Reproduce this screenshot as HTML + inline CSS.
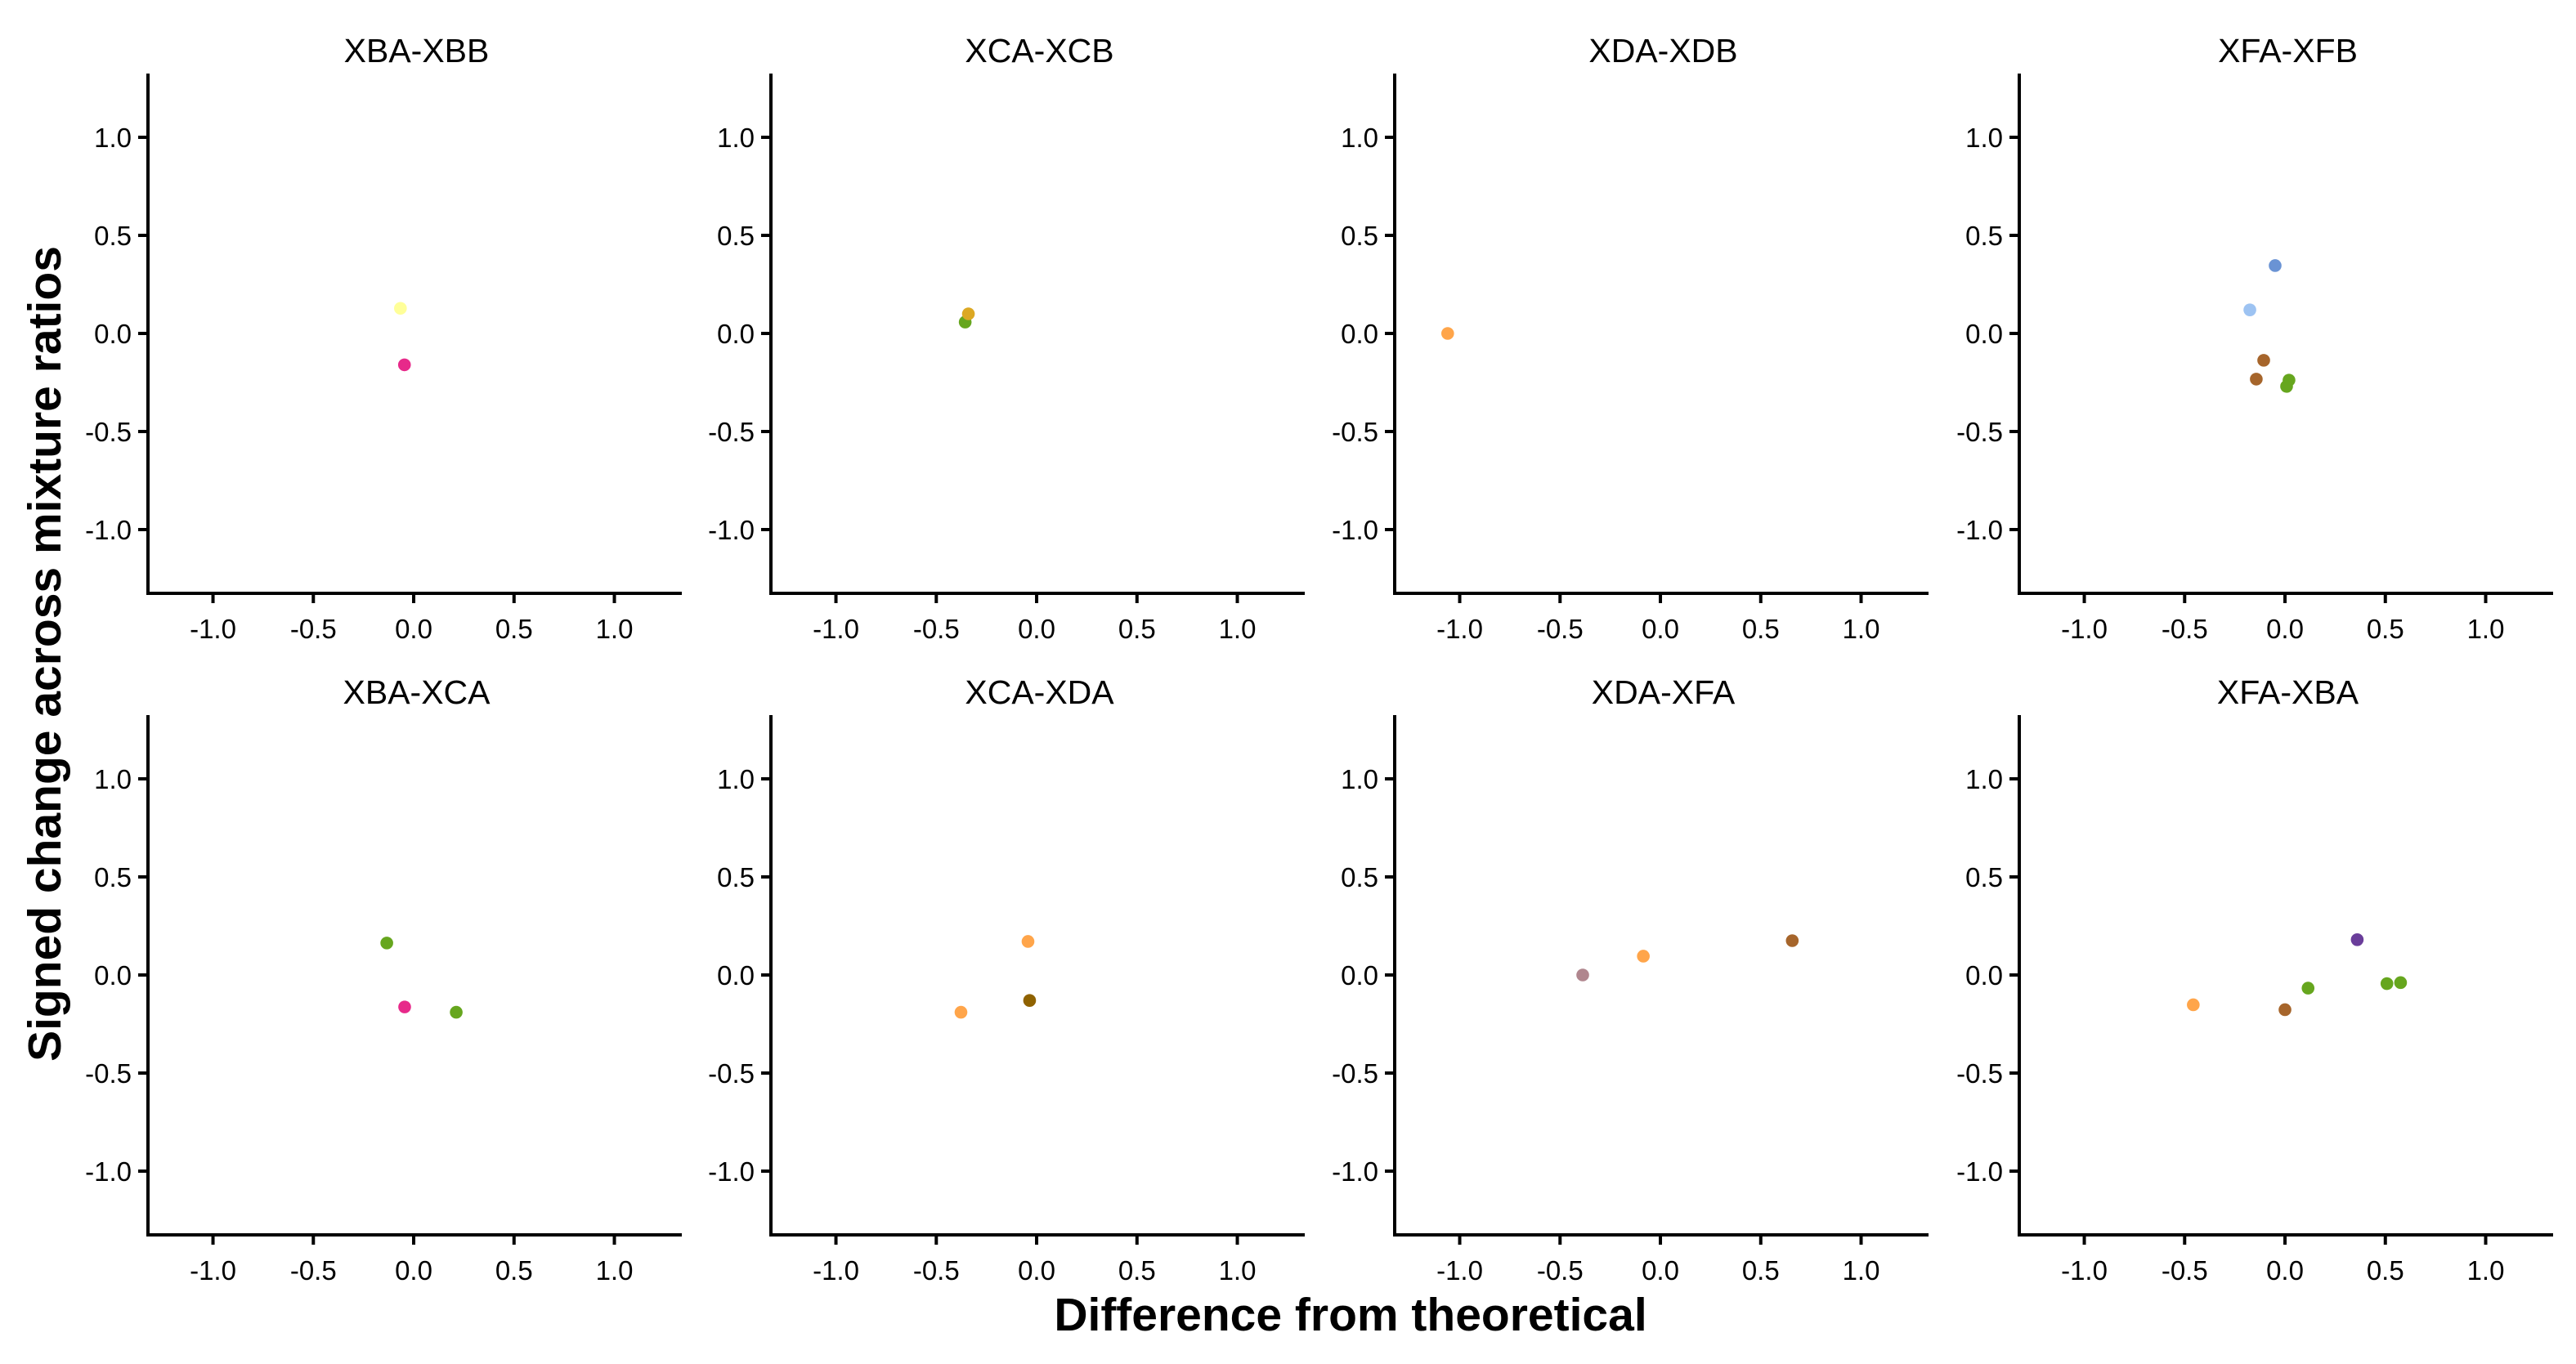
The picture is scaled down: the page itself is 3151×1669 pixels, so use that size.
<!DOCTYPE html>
<html><head><meta charset="utf-8"><style>
html,body{margin:0;padding:0;background:#fff;}
svg{display:block;font-family:"Liberation Sans",Arial,sans-serif;}
</style></head><body>
<svg id="chart" width="3151" height="1669" viewBox="0 0 3151 1669" xmlns="http://www.w3.org/2000/svg">
<rect width="3151" height="1669" fill="#fff"/>
<text x="0" y="0" transform="translate(74,800) rotate(-90)" text-anchor="middle" font-size="57" font-weight="bold">Signed change across mixture ratios</text>
<text x="1652" y="1628" text-anchor="middle" font-size="57" font-weight="bold">Difference from theoretical</text>
</svg>
<script>
const panelTitles = ["XBA-XBB","XCA-XCB","XDA-XDB","XFA-XFB","XBA-XCA","XCA-XDA","XDA-XFA","XFA-XBA"];
const xValues = [
  [-0.066,-0.046],
  [-0.356,-0.34],
  [-1.06],
  [-0.049,-0.175,-0.106,-0.143,0.02,0.008],
  [-0.134,-0.045,0.212],
  [-0.043,-0.035,-0.377],
  [-0.387,-0.085,0.657],
  [-0.457,0,0.115,0.36,0.508,0.576]
];
const yValues = [
  [0.128,-0.16],
  [0.058,0.1],
  [0.0],
  [0.346,0.12,-0.137,-0.233,-0.238,-0.27],
  [0.163,-0.163,-0.19],
  [0.171,-0.13,-0.19],
  [0.0,0.096,0.175],
  [-0.152,-0.177,-0.067,0.18,-0.044,-0.039]
];
const pointColors = [
  ["#ffff99","#e7298a"],
  ["#66a61e","#dca823"],
  ["#ffa54a"],
  ["#6a93d4","#9dc3f2","#a6652b","#a6652b","#66a61e","#66a61e"],
  ["#66a61e","#e7298a","#66a61e"],
  ["#ffa54a","#8f6200","#ffa54a"],
  ["#b0868e","#ffa54a","#a6652b"],
  ["#ffa54a","#a6652b","#66a61e","#6a3d9a","#66a61e","#66a61e"]
];
const tickValues = [-1.0,-0.5,0.0,0.5,1.0];
const tickLabels = ["-1.0","-0.5","0.0","0.5","1.0"];

const NS = "http://www.w3.org/2000/svg";
const svg = document.getElementById("chart");
const colX = [181, 943, 1706, 2470];
const rowTop = [90, 875];
const PW = 653, PH = 636;
const XMIN = -1.324, XMAX = 1.336, YMIN = -1.325, YMAX = 1.325;
function mk(tag, attrs){const e=document.createElementNS(NS,tag);for(const k in attrs)e.setAttribute(k,attrs[k]);return e;}

panelTitles.forEach((title,i)=>{
  const x0 = colX[i%4], y0 = rowTop[Math.floor(i/4)];
  const sx = v => x0 + (v - XMIN)/(XMAX-XMIN)*PW;
  const sy = v => y0 + (YMAX - v)/(YMAX-YMIN)*PH;
  const g = mk("g",{});
  
  
  svg.appendChild(g);
  const t = mk("text",{x:x0+PW/2+2,y:y0-14,"text-anchor":"middle","font-size":"41"});
  t.textContent = title;
  
  
  g.appendChild(t);
  const ax = mk("path",{d:`M${x0},${y0} L${x0},${y0+PH} L${x0+PW},${y0+PH}`,fill:"none",stroke:"#000","stroke-width":"4"});
  
  
  g.appendChild(ax);
  tickValues.forEach((v,k)=>{
    const px = sx(v), py = sy(v);
    const tx = mk("line",{x1:px,x2:px,y1:y0+PH,y2:y0+PH+12,stroke:"#000","stroke-width":"4"});
    
    
    g.appendChild(tx);
    const lx = mk("text",{x:px,y:y0+PH+55,"text-anchor":"middle","font-size":"33"});
    lx.textContent = tickLabels[k];
    
    
    g.appendChild(lx);
    const ty = mk("line",{x1:x0-12,x2:x0,y1:py,y2:py,stroke:"#000","stroke-width":"4"});
    
    
    g.appendChild(ty);
    const ly = mk("text",{x:x0-20,y:py+12,"text-anchor":"end","font-size":"33"});
    ly.textContent = tickLabels[k];
    
    
    g.appendChild(ly);
  });
  xValues[i].forEach((xv,j)=>{
    const c = mk("circle",{cx:sx(xv),cy:sy(yValues[i][j]),r:"7.8",fill:pointColors[i][j]});
    
    
    g.appendChild(c);
  });
});
</script>
</body></html>
